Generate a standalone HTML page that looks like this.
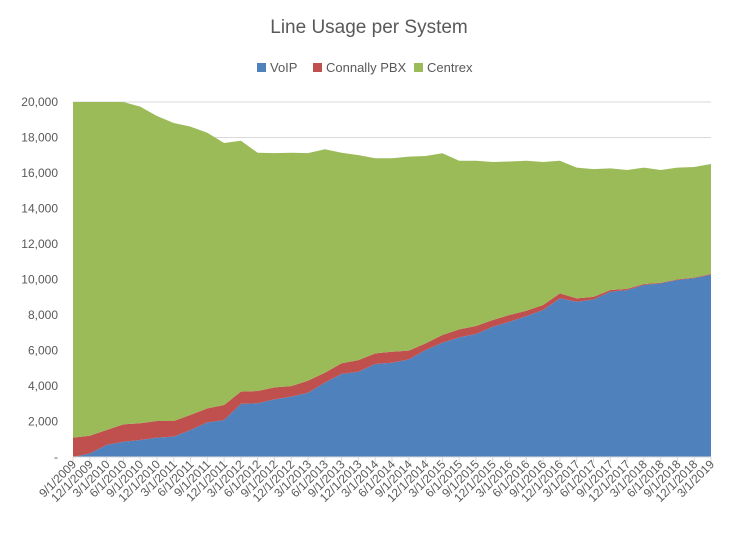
<!DOCTYPE html>
<html><head><meta charset="utf-8"><style>
body{margin:0;background:#fff;}
svg text{font-family:"Liberation Sans",sans-serif;fill:#595959;}
</style></head><body>
<svg id="chart" width="738" height="545" xmlns="http://www.w3.org/2000/svg">
<text x="369" y="33" text-anchor="middle" font-size="19">Line Usage per System</text>
<g font-size="13">
<g><rect x="257" y="63" width="9" height="9" fill="#4f81bd"/><text x="270" y="72">VoIP</text></g>
<g><rect x="313" y="63" width="9" height="9" fill="#c0504d"/><text x="326" y="72">Connally PBX</text></g>
<g><rect x="414" y="63" width="9" height="9" fill="#9bbb59"/><text x="427" y="72">Centrex</text></g>
</g>
<g id="grid"></g><g id="areas"></g><g id="axes"></g>
</svg>
<script>
const categories=[];
const startYear=2009,startMonth=9;
for(let i=0;i<39;i++){const m=startMonth-1+i*3;categories.push(((m%12)+1)+"/1/"+(startYear+Math.floor(m/12)));}
const voip=[0,200,680,860,960,1090,1150,1520,1950,2080,2990,3030,3250,3400,3620,4190,4680,4800,5240,5310,5500,6030,6440,6740,6930,7340,7620,7940,8280,8940,8750,8870,9310,9400,9690,9780,9970,10080,10270];
const pbx=[1090,1000,840,980,940,940,880,850,790,850,690,690,670,590,680,560,600,660,600,620,490,370,430,450,450,380,380,300,280,280,190,150,100,70,60,40,40,30,40];
const centrex=[18910,18800,18480,18160,17840,17180,16790,16240,15530,14760,14140,13420,13200,13150,12820,12590,11860,11550,10990,10900,10930,10560,10240,9500,9310,8900,8650,8450,8060,7470,7360,7200,6850,6700,6550,6350,6290,6230,6200];
const yTicks=[0,2000,4000,6000,8000,10000,12000,14000,16000,18000,20000];
const X0=73,X1=711,Y0=457,Y1=102,YMAX=20000;
const xs=i=>X0+(X1-X0)*i/(categories.length-1);
const ys=v=>Y0-(Y0-Y1)*v/YMAX;
const NS="http://www.w3.org/2000/svg";
const grid=document.getElementById('grid'),areas=document.getElementById('areas'),axes=document.getElementById('axes');
yTicks.forEach(t=>{
 if(t>0){const l=document.createElementNS(NS,'line');
 
 
 l.setAttribute('x1',X0);l.setAttribute('x2',X1);l.setAttribute('y1',ys(t));l.setAttribute('y2',ys(t));l.setAttribute('stroke','#d9d9d9');grid.appendChild(l);}
 const tx=document.createElementNS(NS,'text');
 
 
 tx.setAttribute('x',58);tx.setAttribute('y',ys(t)+4);tx.setAttribute('text-anchor','end');tx.setAttribute('font-size','12');
 tx.textContent=t===0?'-':t.toLocaleString('en-US');axes.appendChild(tx);
});
const series=[[voip,'#4f81bd','area-voip'],[pbx,'#c0504d','area-connally-pbx'],[centrex,'#9bbb59','area-centrex']];
let base=categories.map(()=>0);
series.forEach(([vals,col,name])=>{
 const top=base.map((b,i)=>b+vals[i]);
 let d='M'+xs(0)+','+ys(top[0]);
 for(let i=1;i<top.length;i++)d+='L'+xs(i)+','+ys(top[i]);
 for(let i=top.length-1;i>=0;i--)d+='L'+xs(i)+','+ys(base[i]);
 const p=document.createElementNS(NS,'path');
 
 
 p.setAttribute('d',d+'Z');p.setAttribute('fill',col);areas.appendChild(p);
 base=top;
});
const ax=document.createElementNS(NS,'line');


ax.setAttribute('x1',X0);ax.setAttribute('x2',X1);ax.setAttribute('y1',Y0);ax.setAttribute('y2',Y0);ax.setAttribute('stroke','#d9d9d9');axes.appendChild(ax);
categories.forEach((c,i)=>{
 const x=xs(i);
 const tk=document.createElementNS(NS,'line');
 
 
 tk.setAttribute('x1',x);tk.setAttribute('x2',x);tk.setAttribute('y1',Y0);tk.setAttribute('y2',Y0+5);tk.setAttribute('stroke','#d9d9d9');axes.appendChild(tk);
 const t=document.createElementNS(NS,'text');
 
 
 t.setAttribute('text-anchor','end');t.setAttribute('font-size','12');
 t.setAttribute('transform','translate('+(x+4)+','+(Y0+8)+') rotate(-45)');
 t.textContent=c;axes.appendChild(t);
});
</script>
</body></html>
